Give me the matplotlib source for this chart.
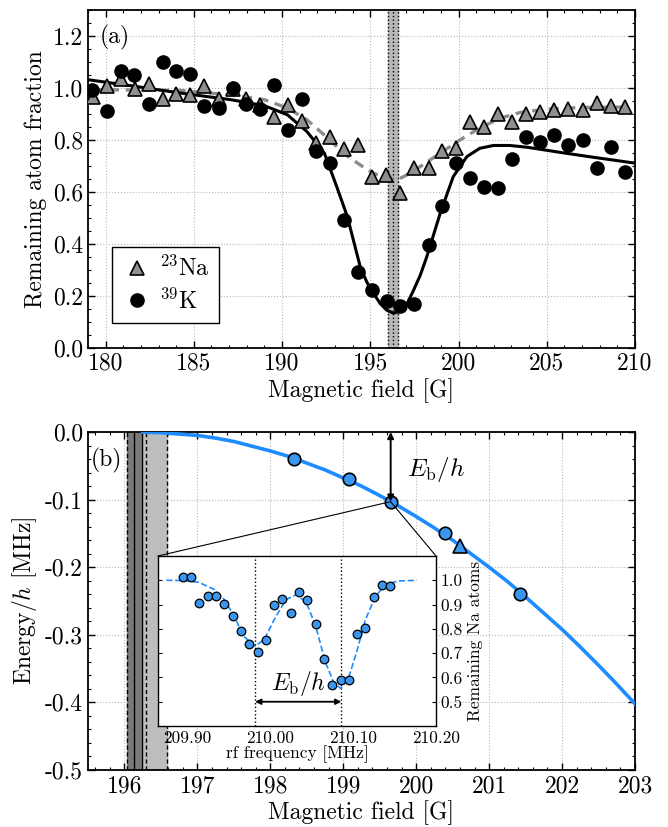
import matplotlib
matplotlib.use("Agg")
import matplotlib.pyplot as plt
from matplotlib.patches import ConnectionPatch
from matplotlib.ticker import MultipleLocator, FormatStrFormatter

plt.rcParams['font.family'] = ['cmr10', 'DejaVu Serif']
plt.rcParams['mathtext.fontset'] = 'cm'
plt.rcParams['axes.unicode_minus'] = False
plt.rcParams['axes.formatter.use_mathtext'] = False

# ---- panel (a): loss spectroscopy ----
k_field = [179.25, 180.06, 180.85, 181.6, 182.45, 183.23, 184.0, 184.8, 185.6, 186.4,
           187.2, 187.98, 188.77, 189.57, 190.34, 191.13, 191.92, 192.74, 193.53, 194.32,
           195.12, 195.94, 196.7, 197.49, 198.3, 199.09, 199.87, 200.66, 201.45, 202.23,
           203.04, 203.83, 204.62, 205.43, 206.23, 207.04, 207.83, 208.62, 209.42]
k_frac = [0.994, 0.91, 1.064, 1.051, 0.94, 1.099, 1.067, 1.053, 0.929, 0.923,
          1.0, 0.94, 0.92, 1.013, 0.837, 0.958, 0.759, 0.711, 0.494, 0.293,
          0.223, 0.179, 0.16, 0.17, 0.398, 0.546, 0.711, 0.653, 0.618, 0.617,
          0.726, 0.81, 0.794, 0.82, 0.781, 0.801, 0.691, 0.775, 0.676]

na_field = [179.28, 180.06, 180.85, 181.64, 182.45, 183.23, 184.0, 184.81, 185.6, 186.4,
            187.2, 187.98, 188.77, 189.57, 190.34, 191.13, 191.92, 192.74, 193.53, 194.32,
            195.12, 195.9, 196.7, 197.49, 198.3, 199.09, 199.87, 200.66, 201.45, 202.23,
            203.04, 203.83, 204.62, 205.43, 206.23, 207.04, 207.83, 208.62, 209.42]
na_frac = [0.964, 1.009, 1.036, 0.996, 1.017, 0.958, 0.977, 0.972, 1.006, 0.959,
           0.996, 0.959, 0.936, 0.888, 0.936, 0.875, 0.79, 0.813, 0.765, 0.781,
           0.659, 0.666, 0.597, 0.691, 0.694, 0.756, 0.768, 0.868, 0.849, 0.901,
           0.868, 0.9, 0.906, 0.916, 0.919, 0.916, 0.942, 0.932, 0.927]

k_fit_field = [179.0, 181.4, 184.2, 187.1, 189.0, 190.3, 191.4, 192.4, 193.1, 193.7,
               194.43, 194.8, 195.19, 195.57, 195.94, 196.32, 196.7, 197.08, 197.45, 197.83,
               198.2, 198.96, 199.7, 200.47, 201.2, 201.98, 202.9, 203.9, 205.8, 207.6, 210.0]
k_fit_frac = [1.032, 1.009, 0.981, 0.955, 0.932, 0.897, 0.833, 0.749, 0.62, 0.505,
              0.312, 0.254, 0.209, 0.17, 0.145, 0.134, 0.142, 0.17, 0.222, 0.28,
              0.351, 0.518, 0.659, 0.736, 0.768, 0.779, 0.779, 0.772, 0.752, 0.734, 0.711]

na_fit_field = [179.25, 184.2, 187.0, 189.0, 190.3, 191.4, 192.5, 193.6, 194.43, 195.19,
                195.94, 196.5, 197.08, 197.83, 198.96, 200.1, 201.2, 202.36, 203.5, 205.0,
                206.9, 209.5]
na_fit_frac = [0.994, 0.991, 0.974, 0.955, 0.923, 0.878, 0.813, 0.743, 0.704, 0.672,
               0.653, 0.646, 0.666, 0.698, 0.749, 0.801, 0.846, 0.884, 0.906, 0.919,
               0.925, 0.927]

# ---- panel (b): bound state energy ----
eb_field = [198.32, 199.08, 199.65, 200.4, 201.42]
eb_energy = [-0.040, -0.070, -0.103, -0.149, -0.240]
eb_tri_field = [200.6]
eb_tri_energy = [-0.169]

curve_field = [196.25, 196.5, 196.75, 197.0, 197.25, 197.5, 197.75, 198.0, 198.25, 198.5,
               198.75, 199.0, 199.25, 199.5, 199.75, 200.0, 200.25, 200.5, 200.75, 201.0,
               201.25, 201.5, 201.75, 202.0, 202.25, 202.5, 202.75, 203.0]
curve_energy = [0.0, -0.001, -0.003, -0.005, -0.009, -0.014, -0.021, -0.028, -0.036, -0.046,
                -0.056, -0.068, -0.080, -0.094, -0.109, -0.125, -0.142, -0.160, -0.180, -0.200,
                -0.221, -0.244, -0.268, -0.292, -0.318, -0.345, -0.373, -0.402]

# ---- inset: rf spectrum ----
rf_freq = [209.895, 209.905, 209.915, 209.925, 209.935, 209.945, 209.955, 209.965, 209.975,
           209.985, 209.995, 210.005, 210.015, 210.025, 210.035, 210.045, 210.055, 210.065,
           210.075, 210.085, 210.095, 210.105, 210.115, 210.125, 210.135, 210.145]
rf_na = [1.014, 1.014, 0.907, 0.937, 0.937, 0.903, 0.851, 0.793, 0.736, 0.704,
         0.756, 0.897, 0.923, 0.864, 0.951, 0.918, 0.818, 0.674, 0.567, 0.590,
         0.589, 0.779, 0.805, 0.933, 0.979, 0.978]
rf_fit_freq = [209.875, 209.895, 209.914, 209.933, 209.945, 209.957, 209.968, 209.982,
               209.993, 210.005, 210.019, 210.032, 210.044, 210.055, 210.067, 210.077,
               210.085, 210.094, 210.104, 210.115, 210.127, 210.139, 210.154, 210.177]
rf_fit_na = [1.0, 0.999, 0.992, 0.962, 0.92, 0.852, 0.77, 0.729, 0.756, 0.838,
             0.92, 0.941, 0.907, 0.811, 0.66, 0.578, 0.555, 0.592, 0.70, 0.838,
             0.934, 0.982, 0.997, 1.0]
rf_dips = [209.982, 210.086]

blue = '#1e8cff'
mblue = '#3a96ee'

fig = plt.figure(figsize=(6.68, 8.27), dpi=100)
ax_a = fig.add_axes([0.1317, 0.5792, 0.8189, 0.4087])
ax_b = fig.add_axes([0.1317, 0.0689, 0.8189, 0.4087])


def style(ax):
    ax.tick_params(which='both', direction='in', top=True, right=True, labelsize=17)
    ax.tick_params(which='major', length=5, width=1)
    ax.tick_params(which='minor', length=2.5, width=0.8)
    ax.grid(True, which='major', color='#b8b8b8', linestyle=':', linewidth=0.8)
    ax.set_axisbelow(True)
    for s in ax.spines.values():
        s.set_linewidth(1.3)


# panel (a)
style(ax_a)
ax_a.axvspan(196.03, 196.59, color='#b8b8b8', zorder=1)
for x in (196.03, 196.31, 196.59):
    ax_a.axvline(x, color='k', linestyle=':', linewidth=1.0, zorder=1.5)
ax_a.plot(na_fit_field, na_fit_frac, color='#8c8c8c', linestyle=(0, (3, 2)), linewidth=2.4, zorder=2)
ax_a.plot(k_fit_field, k_fit_frac, color='k', linewidth=2.2, zorder=3)
ax_a.plot(na_field, na_frac, linestyle='none', marker='^', markersize=10.5,
          markerfacecolor='#8f8f8f', markeredgecolor='k', markeredgewidth=1.2,
          label='$^{23}$Na', zorder=4)
ax_a.plot(k_field, k_frac, linestyle='none', marker='o', markersize=9.5,
          color='k', label='$^{39}$K', zorder=5)
ax_a.set_xlim(179, 210)
ax_a.set_ylim(0, 1.3)
ax_a.xaxis.set_major_locator(MultipleLocator(5))
ax_a.xaxis.set_minor_locator(MultipleLocator(1))
ax_a.yaxis.set_major_locator(MultipleLocator(0.2))
ax_a.yaxis.set_minor_locator(MultipleLocator(0.05))
ax_a.set_xlabel('Magnetic field [G]', fontsize=17, labelpad=2)
ax_a.set_ylabel('Remaining atom fraction', fontsize=17)
ax_a.text(0.022, 0.955, '(a)', transform=ax_a.transAxes, fontsize=17, va='top', ha='left')
leg = ax_a.legend(loc='lower left', bbox_to_anchor=(0.044, 0.074), borderaxespad=0,
                  fontsize=17, fancybox=False, framealpha=1, edgecolor='k',
                  handletextpad=0.3, handlelength=1.3, borderpad=0.4, labelspacing=0.3)
leg.get_frame().set_linewidth(1.0)

# panel (b)
style(ax_b)
ax_b.axvspan(196.03, 196.24, color='#7a7a7a', zorder=1)
ax_b.axvspan(196.24, 196.59, color='#bdbdbd', zorder=1)
for x in (196.13, 196.24):
    ax_b.axvline(x, color='k', linewidth=1.0, zorder=1.5)
for x in (196.03, 196.29, 196.59):
    ax_b.axvline(x, color='k', linestyle='--', linewidth=1.0, dashes=(3, 2), zorder=1.5)
ax_b.plot(curve_field, curve_energy, color=blue, linewidth=2.6, zorder=3)
ax_b.plot(eb_field, eb_energy, linestyle='none', marker='o', markersize=9,
          markerfacecolor=mblue, markeredgecolor='k', markeredgewidth=1.2, zorder=5)
ax_b.plot(eb_tri_field, eb_tri_energy, linestyle='none', marker='^', markersize=9.5,
          markerfacecolor=mblue, markeredgecolor='k', markeredgewidth=1.2, zorder=5)
ax_b.annotate('', xy=(eb_field[2], 0.0), xytext=(eb_field[2], eb_energy[2]),
              arrowprops=dict(arrowstyle='<|-|>', color='k', lw=1.4,
                              mutation_scale=9, shrinkA=0, shrinkB=0), zorder=6)
ax_b.text(199.88, -0.055, r'$E_\mathrm{b}/h$', fontsize=18, ha='left', va='center')
ax_b.set_xlim(195.5, 203)
ax_b.set_ylim(-0.5, 0)
ax_b.xaxis.set_major_locator(MultipleLocator(1))
ax_b.xaxis.set_minor_locator(MultipleLocator(0.2))
ax_b.yaxis.set_major_locator(MultipleLocator(0.1))
ax_b.yaxis.set_minor_locator(MultipleLocator(0.02))
ax_b.yaxis.set_major_formatter(FormatStrFormatter('%.1f'))
ax_b.set_xlabel('Magnetic field [G]', fontsize=17, labelpad=2)
ax_b.set_ylabel('Energy$/h$ [MHz]', fontsize=17)
ax_b.text(0.005, 0.915, '(b)', transform=ax_b.transAxes, fontsize=17, va='center', ha='left')

# inset
ax_in = fig.add_axes([0.2365, 0.1221, 0.4162, 0.2056], zorder=10)
ax_in.set_facecolor('white')
for x in rf_dips:
    ax_in.axvline(x, color='k', linestyle=':', linewidth=1.0)
ax_in.plot(rf_fit_freq, rf_fit_na, color=blue, linestyle='--', linewidth=1.2, zorder=2)
ax_in.plot(rf_freq, rf_na, linestyle='none', marker='o', markersize=6.2,
           markerfacecolor=mblue, markeredgecolor='k', markeredgewidth=0.9, zorder=3)
ax_in.annotate('', xy=(rf_dips[0], 0.5), xytext=(rf_dips[1], 0.5),
               arrowprops=dict(arrowstyle='<|-|>', color='k', lw=1.3,
                               mutation_scale=8, shrinkA=0, shrinkB=0))
ax_in.text(sum(rf_dips) / 2, 0.515, r'$E_\mathrm{b}/h$', fontsize=17, ha='center', va='bottom')
ax_in.set_xlim(209.865, 210.20)
ax_in.set_ylim(0.40, 1.10)
ax_in.set_xticks([209.9, 210.0, 210.1, 210.2])
ax_in.set_xticklabels(['209.90', '210.00', '210.10', '210.20'])
ax_in.set_yticks([0.5, 0.6, 0.7, 0.8, 0.9, 1.0])
ax_in.yaxis.set_major_formatter(FormatStrFormatter('%.1f'))
ax_in.yaxis.tick_right()
ax_in.yaxis.set_label_position('right')
ax_in.tick_params(direction='in', labelsize=12.5, length=3, left=True, right=True,
                  bottom=False, pad=3)
ax_in.set_xlabel('rf frequency [MHz]', fontsize=12.5, labelpad=0)
ax_in.set_ylabel('Remaining Na atoms', fontsize=12.5, labelpad=4)
for s in ax_in.spines.values():
    s.set_linewidth(1.0)

for corner in ((0, 1), (1, 1)):
    con = ConnectionPatch(xyA=(eb_field[2], eb_energy[2]), coordsA=ax_b.transData,
                          xyB=corner, coordsB=ax_in.transAxes, color='k', linewidth=0.8)
    fig.add_artist(con)

fig.savefig('out.png', dpi=100)
